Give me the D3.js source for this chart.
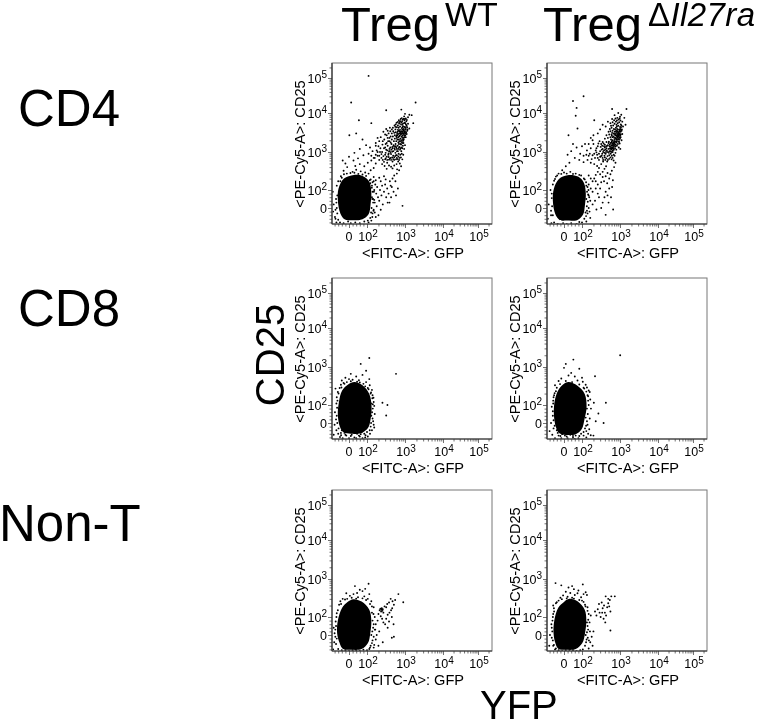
<!DOCTYPE html>
<html><head><meta charset="utf-8">
<style>html,body{margin:0;padding:0;background:#fff}svg{display:block;filter:blur(.4px)}text{font-family:"Liberation Sans",Arial,sans-serif;fill:#000}</style>
<script src="https://cdn.jsdelivr.net/npm/d3@7/dist/d3.min.js"></script></head><body>
<script>
const rowLabels=["CD4","CD8","Non-T"];
const xAxisTitle="<FITC-A>: GFP";
const yAxisTitle="<PE-Cy5-A>: CD25";
const majorTicks=[0,100,1000,10000,100000];
const tickExponents=[null,2,3,4,5];
const minorTicks=[-80,-60,-40,-20,20,40,60,80,200,300,400,500,600,700,800,900,2000,3000,4000,5000,6000,7000,8000,9000,20000,30000,40000,50000,60000,70000,80000,90000,200000];

const cd4WtCore=[[27,250],[78,230],[115,165],[130,85],[124,20],[110,-35],[75,-62],[20,-68],[-25,-62],[-48,-30],[-62,43],[-58,110],[-28,200]];
const cd4KoCore=[[20,245],[78,225],[112,155],[126,80],[120,20],[106,-38],[75,-66],[15,-70],[-25,-66],[-48,-35],[-62,40],[-56,110],[-28,195]];
const cd8WtCore=[[30,400],[75,330],[115,195],[132,90],[124,20],[106,-28],[70,-55],[10,-60],[-30,-52],[-50,-22],[-62,45],[-56,120],[-38,240],[-5,345]];
const cd8KoCore=[[25,400],[75,320],[118,195],[132,90],[116,20],[98,-35],[65,-62],[10,-66],[-28,-55],[-45,-22],[-56,45],[-52,125],[-34,235],[-5,345]];
const nonWtCore=[[25,295],[70,255],[115,155],[130,80],[122,10],[106,-45],[70,-78],[10,-82],[-35,-76],[-52,-45],[-66,10],[-62,80],[-38,175],[-8,250]];
const nonKoCore=[[30,300],[75,260],[118,155],[130,80],[120,10],[102,-45],[65,-78],[10,-82],[-32,-76],[-48,-45],[-58,10],[-54,80],[-32,175],[0,250]];

const cd4WtDots=[[110,115000],[12,20000],[1900,20000],[55,6500],[320,12000],[800,12500],[130,5500],[2,2700],[1000,9500],[1300,9000],[1650,5500],[1500,8800],
[520,3100],[560,3800],[610,2700],[640,3300],[680,4200],[700,2500],[720,3000],[740,3700],[760,2200],[780,2800],[800,3400],[820,4100],[840,5000],[860,2600],[880,3100],[900,3600],[920,2300],[940,2900],[960,4400],[980,5600],[1000,3300],[1020,2700],[1050,3900],[1080,6100],[1100,4700],[1150,3500],[1200,5300],[1000,7000],[950,8200],[880,6800],[820,7400],[760,6200],[700,5400],[650,4800],[600,5600],[560,4400],[540,2200],[590,1900],[630,2100],[670,1750],[710,1900],[750,1600],[790,2000],[830,1800],[870,2050],[910,1700],[660,2900],[690,3500],[730,2650],[770,3250],[810,2450],[850,3800],[890,4600],[930,3900],[970,3200],[740,4500],[780,5200],[650,3700],[620,3050],[590,2550],[1010,4300],[1060,5100],[1120,6600],[1200,7800],[1300,4000],[870,3300],[905,2950],[835,2950],[795,3050],[945,3450],[760,3050],[720,3350],[860,4300],[1010,3700],
[450,3000],[480,4200],[420,2500],[390,1900],[350,2300],[500,1500],[470,1250],[440,1600],[410,1300],[380,1050],[350,1450],[320,1150],[300,850],[330,750],[370,920],[400,1050],[430,880],[460,1020],[490,800],[530,1250],[570,1400],[610,1200],[650,1050],[700,1300],[740,1150],[560,950],[610,820],[680,900],[720,700],[580,640],[520,620],[470,560],[420,700],[380,630],[340,520],[300,640],[270,780],[250,1000],[280,1250],[310,1600],[260,1900],[230,2400],[300,2800],[350,3500],[400,4200],[270,3300],[320,3900],[200,1400],[180,1100],[220,1000],[240,700],[210,620],[190,800],[170,500],[250,480],[290,430],[330,360],[380,440],[430,410],[470,370],[520,440],[600,480],[660,560],[730,500],[790,420],[850,640],[900,850],[800,1050],[850,1250],[950,1200],[1000,1500],[880,1450],
[310,950],[340,1100],[365,850],[390,1200],[415,950],[440,1150],[465,1350],[490,1050],[515,1400],[540,1150],[565,1600],[590,1300],[615,1050],[640,1450],[665,1200],[690,1600],[715,1350],[740,1850],[765,1250],[790,1550],[815,1300],[840,1700],[865,2300],[895,1950],[925,2100],[955,2600],[985,2400],[1015,3000],[1045,2400],[1075,3200],[1105,2900],[1135,4300],[1165,3800],
[300,1300],[330,1700],[360,1900],[390,2300],[420,1750],[450,2100],[480,2500],[510,1900],[540,2700],[570,3200],[600,2300],[630,2700],[660,2400],[690,2100],[330,2700],[370,3000],[410,3400],[450,3800],[490,3400],[530,4800],[570,5100],[610,4300],[650,5900],[690,6500],[730,5900],[770,7000],[810,5800],[850,6200],[890,5400],[930,7100],[970,6500],[1010,5500],[1050,7200],
[280,550],[310,680],[340,620],[370,740],[400,680],[430,620],[460,720],[490,650],[520,720],[550,780],[580,820],[610,700],[640,650],[670,760],[700,620],[750,850],[780,720],[820,900],[260,620],[240,880],[210,800],[190,1000],[170,850],[150,700],[130,800],[225,1250],[255,1550],[285,2100],[210,1900],[190,2300],[170,1450],
[150,220],[170,180],[140,160],[165,140],[185,120],[155,100],[175,80],[195,60],[145,50],[160,30],[180,10],[150,-10],[140,-30],[170,-50],[130,-70],[210,210],[230,170],[250,130],[220,100],[240,70],[210,40],[260,20],[230,-10],[200,-40],[280,230],[310,190],[300,140],[340,110],[280,90],[320,60],[370,80],[350,30],[420,130],[400,170],[470,200],[450,120],[520,240],[560,170],[610,270],[500,90],[580,70],[430,60],[390,30],[860,12],[650,110],[700,330],[620,350],
[20,300],[40,340],[65,310],[90,290],[110,270],[125,330],[150,380],[35,430],[60,480],[85,420],[105,520],[130,600],[160,700],[25,600],[50,680],[80,820],[110,900],[140,1050],[30,950],[60,1200],[95,1500],[120,1300],[170,1700],[75,2100],[40,3000],[-10,400],[-30,320],[-20,500],[0,750],[-35,600],
[-70,-80],[-50,-80],[-30,-85],[-5,-75],[10,-85],[35,-80],[60,-85],[85,-75],[105,-70],[110,-80],[-65,-30],[-75,-10],[-85,20],[-72,50],[-90,90],[-68,130],[-60,170],[-45,230],[-78,-50],[125,190],[135,130],[140,90],[135,60],[145,30],[132,0],[128,-25],[138,50],[122,-55],[-60,-65],[-88,-20],
[-65,70],[-70,30],[-68,0],[-75,-60],[-48,170],[-40,210],[-28,260],[-12,270],[8,280],[30,285],[52,265],[75,255],[95,235],[118,180],[122,150],[134,115],[150,170],[152,90],[155,45],[148,-15],[138,-50],[160,-25]];

const cd4KoDots=[[50,22000],[110,30000],[70,14000],[65,8500],[210,6500],[620,13000],[1080,9000],[1480,13000],[75,4000],[25,2700],[1300,7500],[1400,5000],[1200,4500],[1150,6000],[1000,8000],[900,10000],[850,7500],[780,6000],[720,8800],[620,7000],[560,5500],[480,6000],[420,4500],[350,5000],[300,3800],[260,3000],[200,2700],[170,2300],
[900,3200],[950,3800],[1000,4400],[1050,5100],[1100,3500],[1050,2800],[1000,2200],[950,1800],[900,2500],[860,2900],[820,3500],[780,4200],[750,2700],[710,2300],[680,3000],[640,3500],[610,2600],[580,2100],[560,1700],[530,1400],[500,1200],[480,1000],[460,1450],[440,1250],[500,1700],[530,1050],[560,1200],[590,1000],[620,1300],[650,1500],[690,1150],[720,1700],[760,1400],[800,1900],[840,2300],[880,1600],[930,1300],[980,1650],[1020,1200],[1100,2000],[640,1000],[680,850],[610,800],[570,900],[520,820],[470,780],[430,1000],[400,1300],[440,1800],[480,2300],[520,2800],[560,3400],[600,4200],[660,4800],[720,5300],[780,3400],[840,3900],[900,4700],[950,5800],[1030,6400],[870,5500],[810,5000],[690,3900],[620,3100],[730,3300],[760,2300],[800,2600],[700,1900],[640,2000],[590,1500],[545,1250],[510,950],[660,1250],[700,1450],[600,1150],[570,1350],[540,1550],[630,1650],[670,1750],[610,1900],[980,2800],[1040,3300],[1000,3700],[960,2400],[920,3000],[880,3700],[840,2700],[1150,2900],
[560,1050],[590,1250],[620,1450],[650,1100],[680,1350],[710,1600],[740,1250],[770,1550],[800,1750],[830,1450],[860,2050],[890,1850],[920,2150],[950,2050],[980,3000],[1010,2600],[1040,2400],[600,1750],[630,1250],[660,1550],[690,1700],[720,2050],[750,1850],[780,2200],[810,2100],[840,2500],[870,2350],[900,2800],[930,2600],[960,3300],[990,3500],[1020,3900],[1060,4300],[1090,4800],[1120,3800],[560,2400],[600,2800],[640,2400],[680,2500],[710,2900],[740,3800],[770,2900],[800,3100],[830,4500],[860,3300],[510,1850],[480,1500],[450,1100],[420,900],[390,950],[360,1000],[330,1150],[310,1350],[340,1450],[370,1650],[400,1550],[430,1400],[410,1150],[380,1400],[350,1800],[400,2200],[440,2700],[500,3300],[540,3900],[580,4700],[640,5800],[700,6500],[760,7200],[830,6400],[920,6800],[980,7200],[300,750],[330,800],[360,620],[400,720],[440,680],[480,620],[520,660],[560,720],[600,640],[640,700],[680,600],[720,800],[760,950],[800,1150],[280,900],[260,700],[240,980],[210,900],[180,650],[150,800],[130,850],[110,800],[240,1250],[270,1650],[190,2000],[150,1600],
[350,1200],[320,1600],[290,1900],[260,1400],[230,1100],[200,1600],[170,1250],[300,1050],[340,900],[380,1100],[390,800],[350,700],[310,760],[280,620],[250,850],[220,700],[190,820],[160,900],[135,1100],[120,1600],[100,1400],[90,900],[70,1300],[50,1600],[40,1050],[60,700],[85,620],[110,540],[140,620],[170,520],[210,480],[250,430],[280,380],[320,480],[360,560],[410,620],[460,560],[430,420],[390,360],[350,300],[300,260],[260,300],[230,250],[210,200],[30,520],[10,420],[-10,330],[20,850],
[150,240],[170,200],[190,170],[150,140],[170,110],[190,90],[150,70],[165,40],[190,20],[150,0],[140,-30],[165,-55],[130,-75],[230,170],[260,140],[230,110],[260,80],[220,40],[280,60],[300,110],[320,160],[350,220],[380,170],[420,230],[470,280],[520,200],[560,260],[610,320],[650,180],[620,120],[520,110],[460,150],[420,90],[390,60],[350,30],[320,0],[240,-8],[420,-38],[660,-8],[500,30],[470,70],[580,60],[700,400],[760,520],
[-70,-85],[-55,-80],[-35,-88],[-5,-85],[15,-88],[40,-85],[70,-88],[85,-78],[100,-80],[115,-60],[-62,-40],[-72,-15],[-85,20],[-68,55],[-75,100],[-62,140],[-55,175],[-45,225],[-30,270],[0,290],[35,300],[65,270],[95,240],[118,190],[130,130],[136,90],[130,50],[134,10],[124,-25],[-90,-60],
[-68,80],[-72,-40],[-66,10],[-50,195],[-38,240],[-15,265],[15,270],[50,265],[85,250],[112,200],[128,160],[140,120],[145,75],[142,35],[135,-15],[128,-45],[155,60],[158,-20],[148,100]];

const cd8WtDots=[[115,1700],[65,1200],[580,660],[255,115],[345,100],[320,42],[-75,270],[10,660],[95,800],[-20,520],[0,480],[40,560],[75,620],[115,480],[55,450],[20,460],[-40,440],[-30,380],[95,400],[118,330],[135,250],[140,180],[150,120],[142,80],[130,40],[145,10],[150,-10],[135,-40],[120,-60],[125,-20],[128,110],[-62,220],[-68,160],[-70,110],[-78,60],[-72,20],[-80,-10],[-70,-40],[-60,-60],[-50,-78],[-35,-85],[-15,-70],[0,-85],[15,-65],[30,-80],[45,-60],[60,-75],[75,-85],[85,-60],[100,-50],[105,-75],[-45,-55],[-52,280],[-45,340],[-12,400],[60,390],[90,310],[110,260],[125,200],[-25,-55],[20,-50],[70,-52],
[-58,200],[-64,130],[-66,85],[-68,40],[-65,0],[-58,-30],[-42,290],[-25,360],[10,420],[45,410],[80,360],[105,280],[128,215],[138,150],[142,105],[136,60],[140,25],[128,0],[118,-40],[92,-68],[55,-70],[10,-72],[-20,-65],[-44,-68],[155,95],[160,50],[155,-25],[-85,-65],[-40,-40],[65,-62],[148,155],[90,-80],[40,-85]];
const cd8KoDots=[[1010,2000],[52,1550],[10,1200],[0,950],[85,900],[220,570],[205,115],[425,115],[270,53],[230,10],[370,0],[-50,330],[-45,230],[40,700],[60,560],[25,600],[100,520],[-15,500],[-30,430],[75,440],[105,410],[125,340],[135,290],[150,240],[140,180],[145,130],[135,80],[125,30],[140,-10],[130,-45],[145,-60],[-55,180],[-60,130],[-68,90],[-62,40],[-72,0],[-58,-30],[-65,-65],[-50,-85],[-30,-70],[-15,-85],[5,-70],[20,-85],[35,-65],[50,-82],[65,-70],[80,-85],[95,-60],[110,-70],[120,-30],[170,-68],[200,-70],[-35,-55],[-10,-62],[-40,-40],[160,220],[115,270],
[-52,205],[-58,160],[-60,110],[-62,65],[-58,15],[-52,-15],[-40,285],[-22,355],[10,430],[45,400],[85,345],[110,285],[130,225],[145,170],[150,100],[142,50],[135,10],[128,-15],[110,-50],[85,-72],[50,-72],[15,-75],[-20,-72],[165,140],[172,80],[160,25],[155,-35],[-80,-45],[130,-80],[60,-88]];
const nonWtDots=[[110,750],[33,650],[900,245],[670,400],[550,280],[240,155],[225,165],[255,145],[245,170],[235,140],[260,160],[215,150],[270,130],[290,190],[320,180],[340,220],[380,240],[420,300],[470,260],[510,210],[460,170],[430,150],[390,130],[350,115],[320,90],[300,60],[270,70],[250,90],[230,105],[200,120],[190,80],[170,60],[160,30],[180,0],[210,20],[350,40],[380,75],[450,100],[500,60],[510,-10],[260,-40],[200,-60],[150,-70],[450,-15],
[90,550],[75,480],[60,520],[45,430],[25,400],[5,360],[-15,420],[-35,300],[-48,260],[85,350],[105,300],[115,400],[130,260],[150,180],[135,130],[140,80],[145,40],[130,0],[140,-30],[125,-60],[115,-78],[-55,210],[-62,150],[-70,100],[-72,50],[-80,10],[-68,-20],[-72,-50],[-60,-78],[-40,-85],[-20,-85],[0,-88],[20,-85],[40,-85],[60,-88],[80,-82],[100,-85],[-88,-80],[-10,300],[50,330],[75,310],
[-68,125],[-74,75],[-76,30],[-76,-10],[-44,220],[-22,290],[15,320],[40,305],[95,280],[120,220],[135,190],[148,120],[150,60],[138,20],[150,-10],[135,-45],[120,-70],[160,100],[165,30],[170,-25],[155,-55],[-85,40],[-82,-40]];
const nonKoDots=[[-47,780],[-15,680],[25,600],[45,650],[55,540],[80,500],[105,720],[110,400],[125,450],[135,380],[420,350],[590,350],[730,350],[220,140],[240,110],[260,160],[280,220],[290,130],[310,100],[330,240],[350,170],[380,200],[400,130],[430,110],[460,180],[490,230],[520,190],[560,140],[540,280],[490,300],[410,70],[370,90],[340,130],[560,25],[200,20],[180,-10],[165,-40],[190,-60],[150,-75],
[75,420],[60,380],[35,430],[10,460],[-5,370],[-20,320],[-30,270],[-45,230],[95,330],[110,250],[120,210],[140,180],[150,120],[135,70],[145,30],[125,0],[132,-25],[120,-60],[105,-80],[-60,200],[-55,140],[-62,100],[-70,60],[-65,20],[-78,0],[-62,-30],[-60,-60],[-50,-80],[-30,-85],[-10,-88],[10,-85],[30,-88],[50,-85],[70,-88],[90,-85],[-45,-75],[20,340],[45,320],[85,280],
[-56,170],[-60,120],[-64,80],[-68,40],[-68,-15],[-56,-55],[-40,245],[-12,295],[15,310],[55,305],[100,270],[124,190],[140,145],[146,85],[140,50],[135,15],[142,-15],[128,-40],[158,70],[162,20],[152,-30],[170,110],[-82,-60]];

const columns=[{left:332},{left:547}];
const rows=[{top:63},{top:278},{top:490}];
const panels=[
 [[cd4WtCore,cd4WtDots],[cd4KoCore,cd4KoDots]],
 [[cd8WtCore,cd8WtDots],[cd8KoCore,cd8KoDots]],
 [[nonWtCore,nonWtDots],[nonKoCore,nonKoDots]]];

const W=757,H=721,PW=160,PH=161;
const svg=d3.select("body").append("svg").attr("width",W).attr("height",H);
const t=v=>v<=100?v/100:1+Math.log10(v/100);
const xBase=d3.scaleLinear().domain(majorTicks.map(t)).range([17,35,73,111,146]);
const yBase=d3.scaleLinear().domain(majorTicks.map(t)).range([PH-16,PH-34,PH-72,PH-111,PH-146]);
const line=(sx,sy)=>d3.line().x(d=>sx(t(d[0]))).y(d=>sy(t(d[1]))).curve(d3.curveCatmullRomClosed.alpha(.5));

rows.forEach((r,ri)=>columns.forEach((c,ci)=>{
 const [core,dots]=panels[ri][ci];
 const g=svg.append("g").attr("transform",`translate(${c.left},${r.top})`);
 const cid=`clip${ri}${ci}`;
 g.append("clipPath").attr("id",cid).append("rect").attr("width",PW).attr("height",PH);
 const plot=g.append("g").attr("clip-path",`url(#${cid})`);
 plot.append("path").attr("d",line(xBase,yBase)(core)+"Z").attr("fill","#000");
 plot.selectAll("circle").data(dots).join("circle")
   .attr("cx",d=>xBase(t(d[0]))).attr("cy",d=>yBase(t(d[1]))).attr("r",.95).attr("fill","#000");
 g.append("rect").attr("width",PW).attr("height",PH).attr("fill","none").attr("stroke","#777").attr("stroke-width",1);

 const ax=g.append("g").attr("transform",`translate(0,${PH})`);
 ax.call(d3.axisBottom(xBase).tickValues(minorTicks.map(t).filter(v=>xBase(v)<=PW)).tickSize(2.5).tickFormat("")).call(s=>s.select(".domain").remove());
 const axM=g.append("g").attr("transform",`translate(0,${PH})`);
 axM.call(d3.axisBottom(xBase).tickValues(majorTicks.map(t)).tickSize(4).tickFormat("")).call(s=>s.select(".domain").remove());
 g.append("line").attr("x1",0).attr("x2",PW).attr("y1",PH).attr("y2",PH).attr("stroke","#333").attr("stroke-width",1.2);

 const ay=g.append("g");
 ay.call(d3.axisLeft(yBase).tickValues(minorTicks.map(t).filter(v=>yBase(v)>=0)).tickSize(2.5).tickFormat("")).call(s=>s.select(".domain").remove());
 const ayM=g.append("g");
 ayM.call(d3.axisLeft(yBase).tickValues(majorTicks.map(t)).tickSize(4).tickFormat("")).call(s=>s.select(".domain").remove());
 g.selectAll(".tick line").attr("stroke","#333").attr("stroke-width",.7);
 g.append("line").attr("x1",0).attr("x2",0).attr("y1",0).attr("y2",PH).attr("stroke","#333").attr("stroke-width",1.2);

 majorTicks.forEach((m,i)=>{
  const e=tickExponents[i], xp=xBase(t(m)), yp=yBase(t(m));
  const tx=g.append("text").attr("x",xp+(e?1:0)).attr("y",PH+17).attr("text-anchor","middle").attr("font-size",12.5);
  const ty=g.append("text").attr("x",-5).attr("y",yp+4.5).attr("text-anchor","end").attr("font-size",12.5);
  [tx,ty].forEach(s=>{
    if(e===null){s.text("0");return;}
    s.append("tspan").text("10");
    s.append("tspan").attr("dy",-4.5).attr("font-size",10).text(e);
  });
 });
 g.append("text").attr("x",81).attr("y",PH+34).attr("text-anchor","middle").attr("font-size",14.6).text(xAxisTitle);
 g.append("text").attr("transform",`translate(-27,81) rotate(-90)`).attr("text-anchor","middle").attr("font-size",14.6).text(yAxisTitle);
}));

const big=(x,y,s,size=51)=>svg.append("text").attr("x",x).attr("y",y).attr("font-size",size).text(s);
[[18,126],[18,326],[-1,541]].forEach((p,i)=>big(p[0],p[1],rowLabels[i]));
big(341,41,"Treg",49);
svg.append("text").attr("x",445).attr("y",26).attr("font-size",34).text("WT");
big(543,41,"Treg",49);
const sup=svg.append("text").attr("x",648).attr("y",26).attr("font-size",33).attr("letter-spacing",.4);
sup.append("tspan").text("Δ");
sup.append("tspan").attr("font-style","italic").text("Il27ra");
svg.append("text").attr("transform","translate(284,355) rotate(-90)").attr("text-anchor","middle").attr("font-size",40).text("CD25");
big(480,719,"YFP",40);
</script></body></html>
